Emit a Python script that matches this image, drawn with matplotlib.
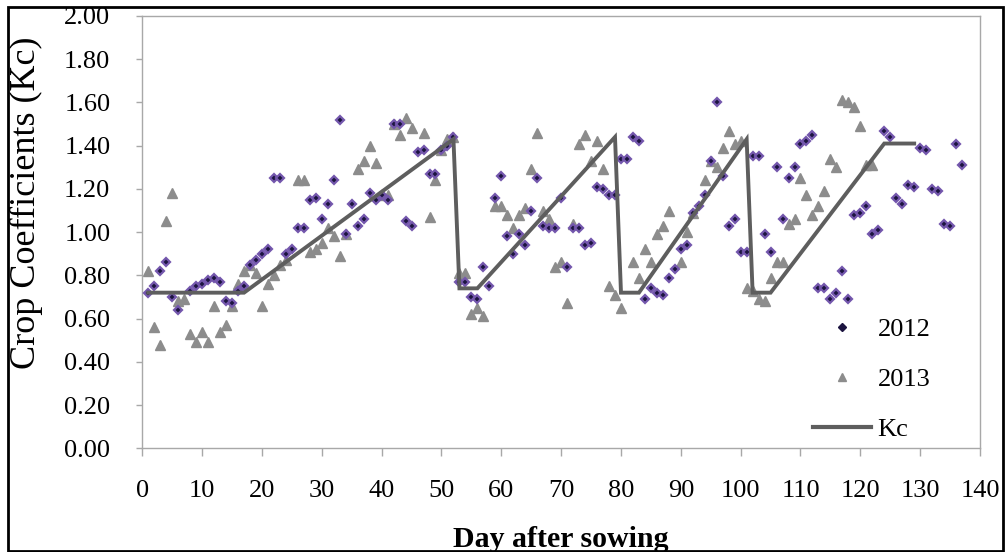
import matplotlib
matplotlib.use("Agg")
import matplotlib.pyplot as plt
from matplotlib.lines import Line2D
from matplotlib.patches import Rectangle

plt.rcParams['font.family'] = ['Liberation Serif', 'DejaVu Serif']

# 2012 measured crop coefficients
days_2012 = [1, 2, 3, 4, 5, 6, 8, 9, 10, 11, 12, 13, 14, 15, 16, 17, 18, 19, 20, 21,
             22, 23, 24, 25, 26, 27, 28, 29, 30, 31, 32, 33, 34, 35, 36, 37, 38, 39, 40, 41,
             42, 43, 44, 45, 46, 47, 48, 49, 50, 51, 52, 53, 54, 55, 56, 57, 58, 59, 60, 61,
             62, 63, 64, 65, 66, 67, 68, 69, 70, 71, 72, 73, 74, 75, 76, 77, 78, 79, 80, 81,
             82, 83, 84, 85, 86, 87, 88, 89, 90, 91, 92, 93, 94, 95, 96, 97, 98, 99, 100, 101,
             102, 103, 104, 105, 106, 107, 108, 109, 110, 111, 112, 113, 114, 115, 116, 117, 118, 119, 120, 121,
             122, 123, 124, 125, 126, 127, 128, 129, 130, 131, 132, 133, 134, 135, 136, 137]
kc_2012 = [0.72, 0.75, 0.82, 0.86, 0.70, 0.64, 0.73, 0.75, 0.76, 0.78, 0.79, 0.77, 0.68, 0.67, 0.73, 0.75, 0.85, 0.87, 0.90, 0.92,
           1.25, 1.25, 0.90, 0.92, 1.02, 1.02, 1.15, 1.16, 1.06, 1.13, 1.24, 1.52, 0.99, 1.13, 1.03, 1.06, 1.18, 1.15, 1.17, 1.15,
           1.50, 1.50, 1.05, 1.03, 1.37, 1.38, 1.27, 1.27, 1.38, 1.40, 1.44, 0.77, 0.77, 0.70, 0.69, 0.84, 0.75, 1.16, 1.26, 0.98,
           0.90, 0.99, 0.94, 1.10, 1.25, 1.03, 1.02, 1.02, 1.16, 0.84, 1.02, 1.02, 0.94, 0.95, 1.21, 1.20, 1.17, 1.17, 1.34, 1.34,
           1.44, 1.42, 0.69, 0.74, 0.72, 0.71, 0.79, 0.83, 0.92, 0.94, 1.09, 1.12, 1.17, 1.33, 1.60, 1.26, 1.03, 1.06, 0.91, 0.91,
           1.35, 1.35, 0.99, 0.91, 1.30, 1.06, 1.25, 1.30, 1.41, 1.42, 1.45, 0.74, 0.74, 0.69, 0.72, 0.82, 0.69, 1.08, 1.09, 1.12,
           0.99, 1.01, 1.47, 1.44, 1.16, 1.13, 1.22, 1.21, 1.39, 1.38, 1.20, 1.19, 1.04, 1.03, 1.41, 1.31]

# 2013 measured crop coefficients
days_2013 = [1, 2, 3, 4, 5, 6, 7, 8, 9, 10, 11, 12, 13, 14, 15, 16, 17, 18, 19, 20,
             21, 22, 23, 24, 26, 27, 28, 29, 30, 31, 32, 33, 34, 36, 37, 38, 39, 40, 41, 42,
             43, 44, 45, 47, 48, 49, 50, 51, 52, 53, 54, 55, 56, 57, 59, 60, 61, 62, 63, 64,
             65, 66, 67, 68, 69, 70, 71, 72, 73, 74, 75, 76, 77, 78, 79, 80, 82, 83, 84, 85,
             86, 87, 88, 90, 91, 92, 94, 95, 96, 97, 98, 99, 100, 101, 102, 103, 104, 105, 106, 107,
             108, 109, 110, 111, 112, 113, 114, 115, 116, 117, 118, 119, 120, 121, 122]
kc_2013 = [0.82, 0.56, 0.48, 1.05, 1.18, 0.68, 0.69, 0.53, 0.49, 0.54, 0.49, 0.66, 0.54, 0.57, 0.66, 0.76, 0.82, 0.85, 0.81, 0.66,
           0.76, 0.80, 0.85, 0.87, 1.24, 1.24, 0.91, 0.92, 0.95, 1.02, 0.98, 0.89, 0.99, 1.29, 1.33, 1.40, 1.32, 1.17, 1.17, 1.50,
           1.45, 1.53, 1.48, 1.46, 1.07, 1.24, 1.38, 1.43, 1.44, 0.81, 0.81, 0.62, 0.65, 0.61, 1.12, 1.12, 1.08, 1.02, 1.08, 1.11,
           1.29, 1.46, 1.10, 1.06, 0.84, 0.86, 0.67, 1.04, 1.41, 1.45, 1.33, 1.42, 1.29, 0.75, 0.71, 0.65, 0.86, 0.79, 0.92, 0.86,
           0.99, 1.03, 1.10, 0.86, 1.00, 1.09, 1.24, 1.33, 1.30, 1.39, 1.47, 1.41, 1.42, 0.74, 0.73, 0.69, 0.68, 0.79, 0.86, 0.86,
           1.04, 1.06, 1.25, 1.17, 1.08, 1.12, 1.19, 1.34, 1.30, 1.61, 1.60, 1.58, 1.49, 1.31, 1.31]

# Kc curve
kc_days = [1, 17, 52, 53, 56, 79, 80, 83, 101, 102, 105, 124, 129]
kc_vals = [0.72, 0.72, 1.43, 0.74, 0.74, 1.44, 0.72, 0.72, 1.43, 0.72, 0.72, 1.41, 1.41]

fig = plt.figure(figsize=(10.06, 5.52), dpi=100)
ax = fig.add_axes([142.3 / 1006, 1 - 448.3 / 552, (980 - 142.3) / 1006, (448.3 - 16) / 552])

ax.plot(days_2013, kc_2013, linestyle='none', marker='^', ms=6.5, color='#8c8c8c', mec='#8c8c8c', zorder=2)
ax.plot(days_2012, kc_2012, linestyle='none', marker='D', ms=4.2, mfc='#1c1440', mec='#7457ad', mew=1.6, zorder=3)
ax.plot(kc_days, kc_vals, color='#5e5e5e', lw=2.8, solid_joinstyle='miter', zorder=4)

ax.set_xlim(0, 140)
ax.set_ylim(0, 2.0)
ax.set_xticks(range(0, 141, 10))
ax.set_yticks([i * 0.2 for i in range(11)])
ax.set_yticklabels([f"{i * 0.2:.2f}" for i in range(11)])

for s in ax.spines.values():
    s.set_color('#a8a8a8')
    s.set_linewidth(1.0)
ax.tick_params(axis='x', direction='out', length=6, width=1, color='#a8a8a8', labelsize=19, pad=17)
ax.tick_params(axis='y', direction='out', length=4, width=1, color='#a8a8a8', labelsize=19, pad=19)

ax.set_ylabel('Crop Coefficients (Kc)', fontsize=26)
ax.yaxis.set_label_coords(-(142.3 - 43) / 837.7, (448.3 - 203) / 432.3)
ax.set_xlabel('Day after sowing', fontsize=21.5, fontweight='bold')
ax.xaxis.set_label_coords((561 - 142.3) / 837.7, -(526 - 448.3) / 432.3)

handles = [
    Line2D([], [], linestyle='none', marker='D', ms=4, color='#1c1440'),
    Line2D([], [], linestyle='none', marker='^', ms=6, color='#8c8c8c'),
    Line2D([], [], color='#5e5e5e', lw=3),
]
ax.legend(handles, ['2012', '2013', 'Kc'], loc='lower left', bbox_to_anchor=((813 - 142.3) / 837.7, 0.017),
          frameon=False, fontsize=19, handlelength=2.2, handletextpad=0.25, labelspacing=1.0,
          borderpad=0, borderaxespad=0)

# outer frame
fig.patches.append(Rectangle((8 / 1006, 1 / 552), (1003 - 8) / 1006, (545 - 1) / 552,
                             transform=fig.transFigure, fill=False, edgecolor='black', lw=2))

fig.savefig('out.png', dpi=100)
